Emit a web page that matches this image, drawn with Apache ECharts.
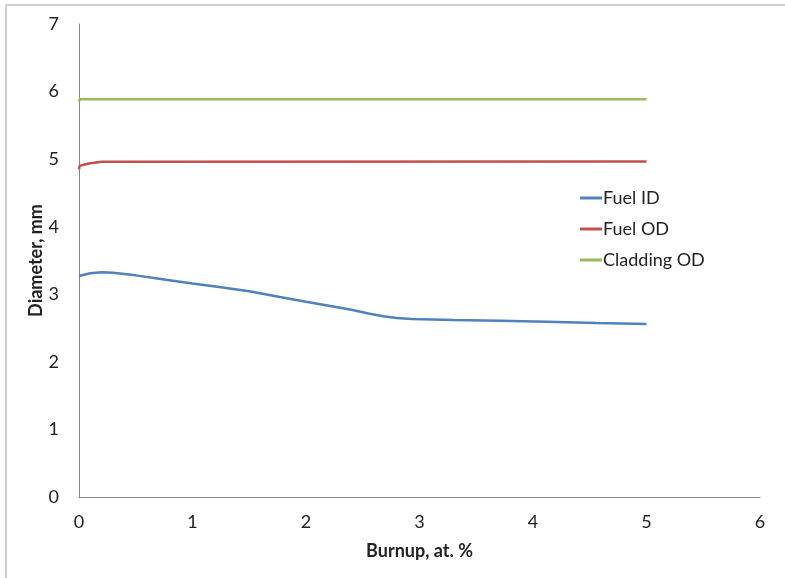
<!DOCTYPE html>
<html>
<head>
<meta charset="utf-8">
<script src="https://cdn.jsdelivr.net/npm/echarts@6/dist/echarts.min.js"></script>
<style>
  html, body { margin: 0; padding: 0; background: #fff; }
  #chart { width: 785px; height: 578px; }
</style>
</head>
<body>
<div id="chart"></div>
<script>
// Pin dimensions over burnup (x: burnup at.%, y: diameter mm)
const fuelID = [
  [0, 3.27], [0.01, 3.29], [0.1, 3.31], [0.2, 3.325], [0.3, 3.32],
  [0.5, 3.28], [0.75, 3.22], [1.0, 3.16], [1.25, 3.105], [1.5, 3.045],
  [1.77, 2.96], [2.0, 2.89], [2.2, 2.83], [2.4, 2.77], [2.55, 2.715],
  [2.68, 2.675], [2.8, 2.65], [2.93, 2.635], [3.3, 2.62], [3.71, 2.61],
  [4.12, 2.595], [4.56, 2.575], [5.0, 2.56]
];
const fuelOD = [
  [0, 4.85], [0.005, 4.9], [0.05, 4.92], [0.1, 4.94], [0.2, 4.96], [5.0, 4.965]
];
const claddingOD = [
  [0, 5.85], [0.005, 5.885], [5.0, 5.885]
];
const seriesNames = ['Fuel ID', 'Fuel OD', 'Cladding OD'];
const seriesColors = ['#4F81BD', '#C0504D', '#9BBB59'];

const font = 'Lato, "Open Sans", sans-serif';
const chart = echarts.init(document.getElementById('chart'), null, { renderer: 'canvas' });

function lineSeries(name, data, color) {
  return {
    name: name,
    type: 'line',
    data: data,
    showSymbol: false,
    symbol: 'none',
    lineStyle: { color: color, width: 2.5 },
    itemStyle: { color: color },
    animation: false
  };
}

chart.setOption({
  backgroundColor: '#fff',
  animation: false,
  graphic: [{
    type: 'rect',
    shape: { x: 6, y: 5, width: 800, height: 600 },
    style: { fill: 'none', stroke: '#cfcfcf', lineWidth: 2 },
    silent: true
  }],
  grid: { left: 79, top: 24, right: 25, bottom: 81, containLabel: false },
  legend: {
    orient: 'vertical',
    left: 575,
    top: 184,
    itemWidth: 22,
    itemHeight: 3,
    itemGap: 13,
    icon: 'rect',
    data: seriesNames,
    textStyle: { fontFamily: font, fontSize: 18, color: '#222', padding: [0, 0, 0, -4] }
  },
  xAxis: {
    type: 'value',
    min: 0, max: 6, interval: 1,
    name: 'Burnup, at. %',
    nameLocation: 'middle',
    nameGap: 45,
    nameMoveOverlap: false,
    nameTextStyle: { fontFamily: font, fontSize: 18, fontWeight: 'bold', color: '#222' },
    axisLine: { show: true, lineStyle: { color: '#868686', width: 1 } },
    axisTick: { show: false },
    splitLine: { show: false },
    axisLabel: { fontFamily: font, fontSize: 18, color: '#222', margin: 16 }
  },
  yAxis: {
    type: 'value',
    min: 0, max: 7, interval: 1,
    name: 'Diameter, mm',
    nameLocation: 'middle',
    nameGap: 34,
    nameMoveOverlap: false,
    nameRotate: 90,
    nameTextStyle: { fontFamily: font, fontSize: 18, fontWeight: 'bold', color: '#222' },
    axisLine: { show: true, lineStyle: { color: '#868686', width: 1 } },
    axisTick: { show: false },
    splitLine: { show: false },
    axisLabel: { fontFamily: font, fontSize: 18, color: '#222', margin: 20 }
  },
  series: [
    lineSeries(seriesNames[0], fuelID, seriesColors[0]),
    lineSeries(seriesNames[1], fuelOD, seriesColors[1]),
    lineSeries(seriesNames[2], claddingOD, seriesColors[2])
  ]
});
</script>
</body>
</html>
